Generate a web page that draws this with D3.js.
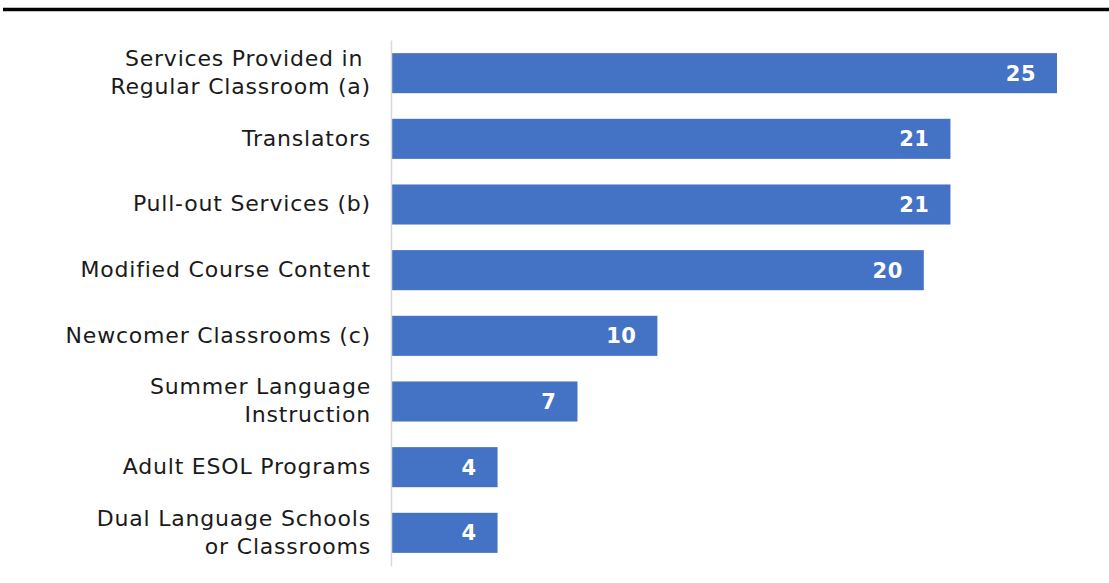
<!DOCTYPE html>
<html>
<head>
<meta charset="utf-8">
<script src="https://cdn.jsdelivr.net/npm/d3@7"></script>
<style>
  body { margin: 0; background: #fff; }
  svg { display: block; font-family: "DejaVu Sans", sans-serif; }
  .catLabel { font-size: 22px; letter-spacing: 0.8px; fill: #1a1a1a; white-space: pre; }
  .valLabel { font-size: 21px; letter-spacing: 0.5px; font-weight: 700; fill: #fff; }
</style>
</head>
<body>
<div id="chart"></div>
<script>

const width = 1109, height = 583

// data
const categories = [
  ["Services Provided in ", "Regular Classroom (a)"],
  ["Translators"],
  ["Pull-out Services (b)"],
  ["Modified Course Content"],
  ["Newcomer Classrooms (c)"],
  ["Summer Language", "Instruction"],
  ["Adult ESOL Programs"],
  ["Dual Language Schools", "or Classrooms"]
]
const values = [25, 21, 21, 20, 10, 7, 4, 4]

const svg = d3.select('#chart').append('svg').attr('width', width).attr('height', height)

// heavy rule under the (cropped) title
svg.append('line')
  .attr('x1', 3).attr('x2', width)
  .attr('y1', 9.5).attr('y2', 9.5)
  .attr('stroke', '#000').attr('stroke-width', 3.5)

const x = d3.scaleLinear().domain([0, 25]).range([391, 1057])
const y = d3.scaleBand().domain(d3.range(values.length)).range([40, 566])
  .paddingInner(0.39).paddingOuter(0.2)

// bars
svg.selectAll('rect.bar')
  .data(values)
  .enter()
  .append('rect')
  .attr('class', 'bar')
  .attr('x', x(0))
  .attr('y', (d, i) => y(i))
  .attr('width', d => x(d) - x(0))
  .attr('height', y.bandwidth())
  .attr('fill', '#4472C4')

// left axis line
svg.append('g')
  .attr('transform', `translate(${x(0)},0)`)
  .call(d3.axisLeft(y).tickSize(0).tickFormat(''))
  .call(g => g.select('.domain').attr('stroke', '#d9d9d9').attr('stroke-width', 1.5))

// category labels
const lineGap = 28
svg.selectAll('text.catLabel')
  .data(categories)
  .enter()
  .append('text')
  .attr('class', 'catLabel')
  .attr('text-anchor', 'end')
  .attr('x', x(0) - 20)
  .attr('y', (d, i) => y(i) + y.bandwidth() / 2 - (d.length - 1) * lineGap / 2 - 1)
  .each(function (d) {
    const t = d3.select(this)
    d.forEach((line, j) => {
      t.append('tspan')
        .attr('x', x(0) - 20)
        .attr('dy', j == 0 ? '0.35em' : lineGap)
        .text(line)
    })
  })

// value labels
svg.selectAll('text.valLabel')
  .data(values)
  .enter()
  .append('text')
  .attr('class', 'valLabel')
  .attr('text-anchor', 'end')
  .attr('x', d => x(d) - 21)
  .attr('y', (d, i) => y(i) + y.bandwidth() / 2)
  .attr('dy', '0.35em')
  .text(d => d)

</script>
</body>
</html>
